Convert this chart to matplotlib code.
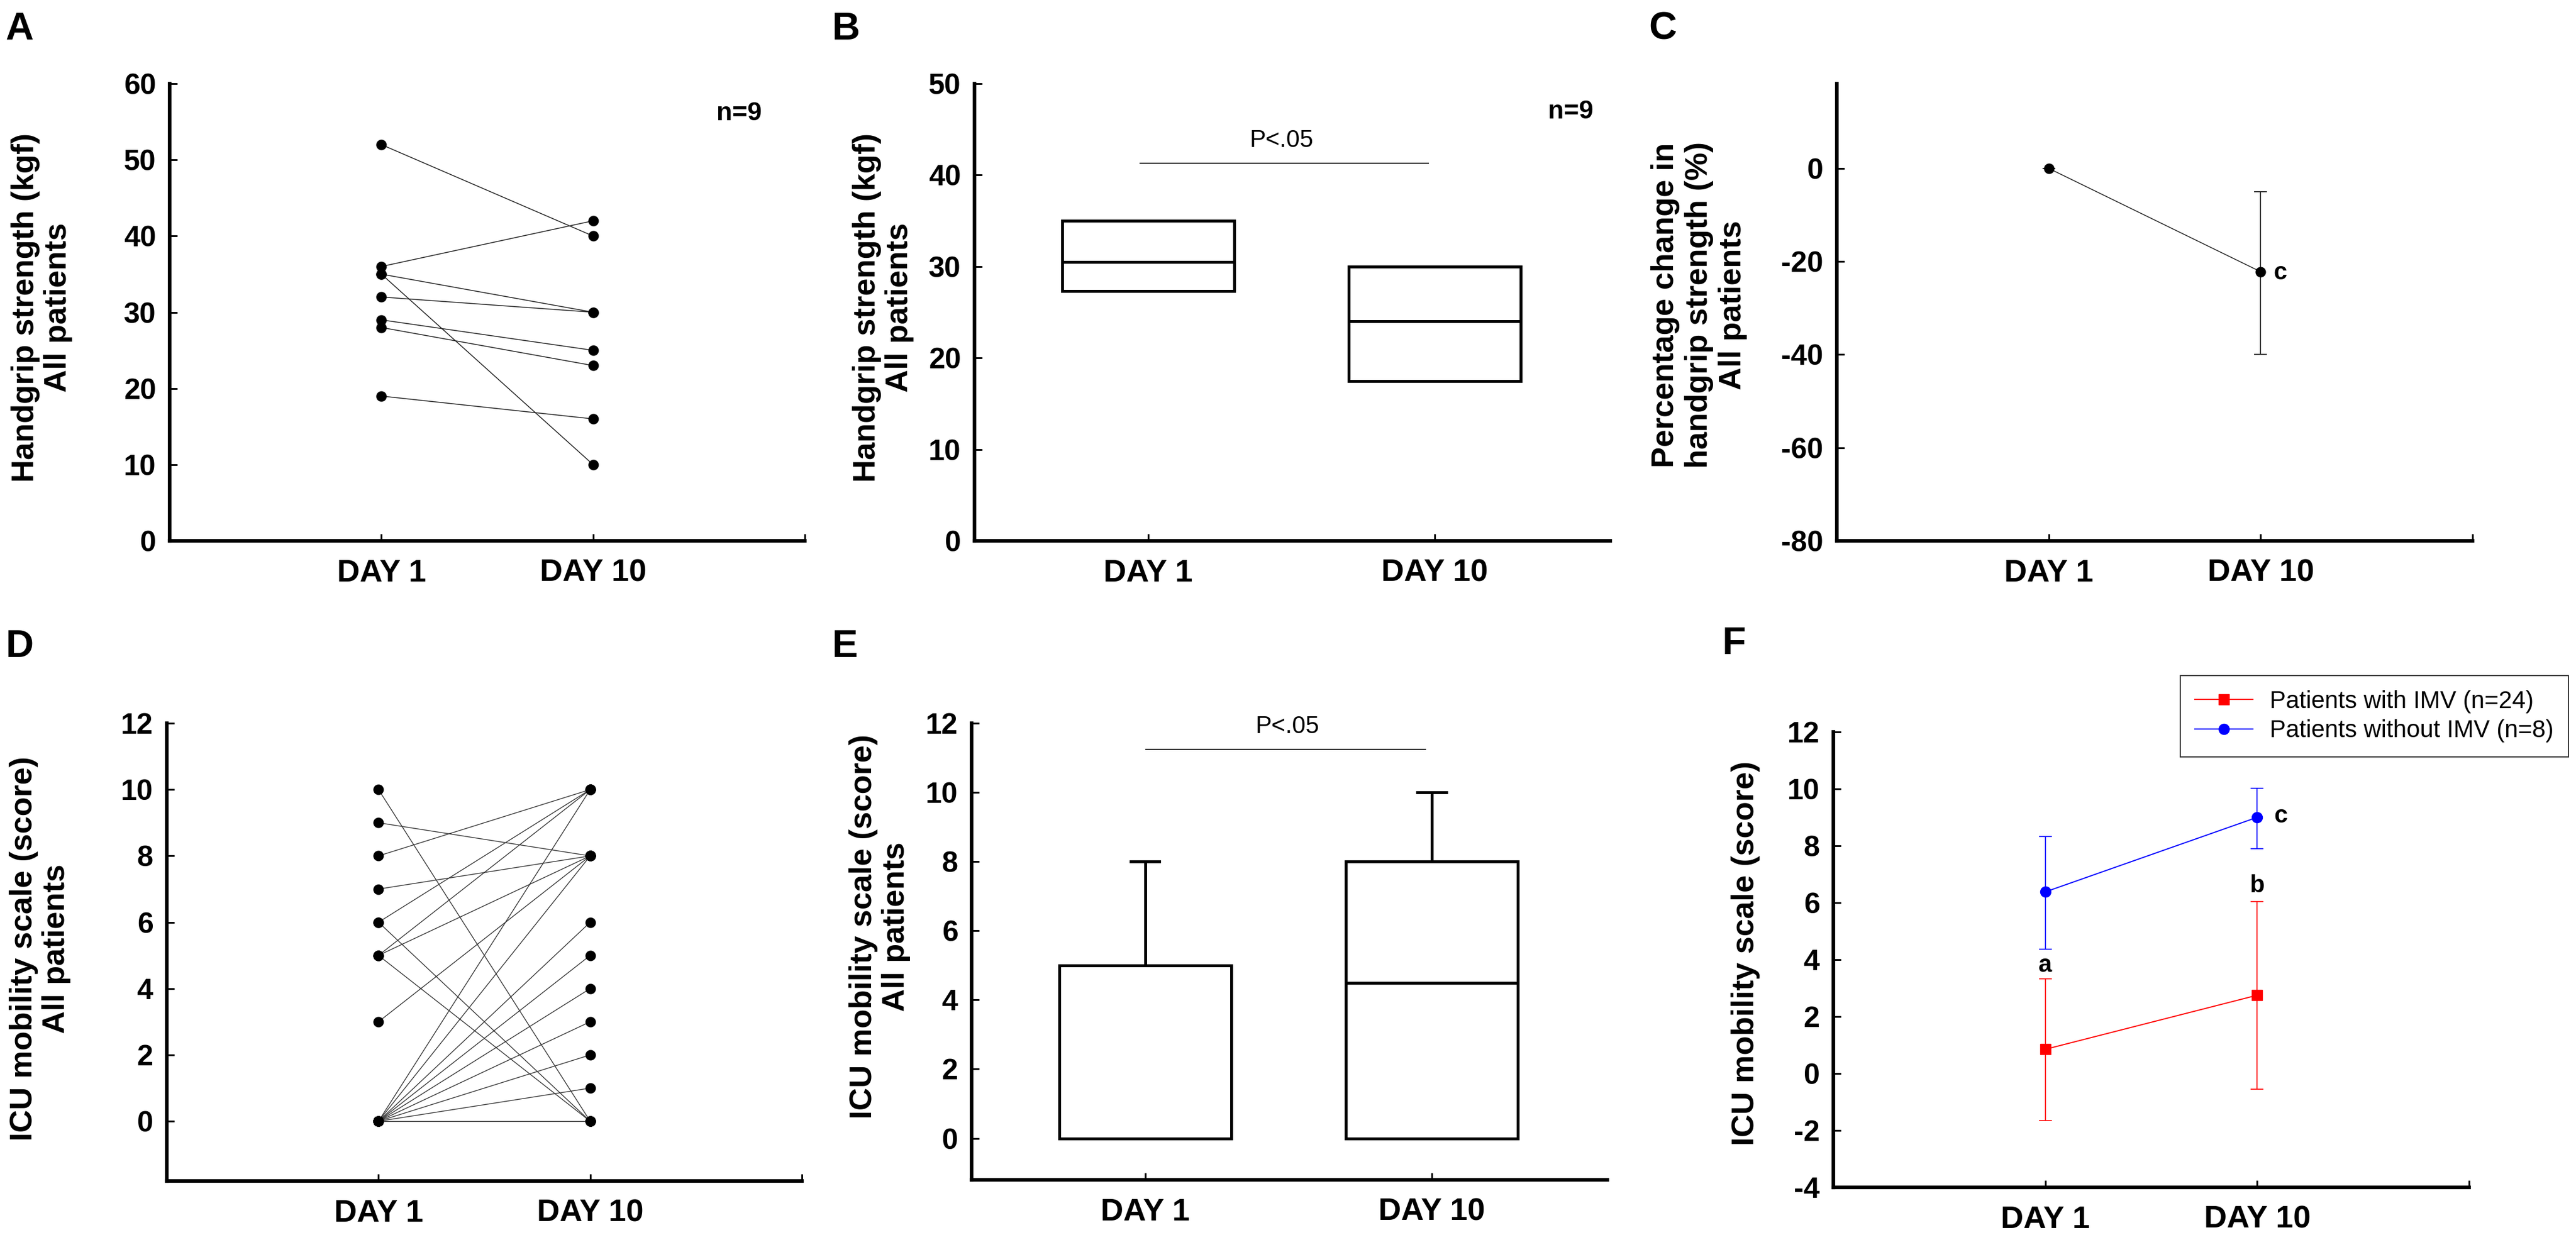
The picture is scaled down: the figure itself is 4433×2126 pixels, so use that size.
import numpy as np
import matplotlib
matplotlib.use("Agg")
import matplotlib.pyplot as plt

plt.rcParams['font.family'] = ['Liberation Sans', 'DejaVu Sans']

# ---- data ----
days = ['DAY 1', 'DAY 10']

# A: handgrip strength per patient (kgf)
hg_day1 = [52, 36, 35, 35, 32, 29, 28, 19]
hg_day10 = [40, 42, 30, 10, 30, 25, 23, 16]

# B: handgrip box (q1, median, q3)
hg_q1 = [27.3, 17.5]
hg_med = [30.5, 24.0]
hg_q3 = [35.0, 30.0]

# C: percentage change in handgrip strength
pct_mean = [0.0, -22.2]
pct_lo = [0.0, -40.0]
pct_hi = [0.0, -5.0]

# D: ICU mobility scale per patient
ims_day1 = [10, 9, 8, 7, 6, 6, 5, 5, 5, 3, 0, 0, 0, 0, 0, 0, 0, 0, 0]
ims_day10 = [0, 8, 10, 8, 10, 0, 10, 8, 0, 8, 10, 8, 6, 5, 4, 3, 2, 1, 0]

# E: ICU mobility box (q1, median, q3, upper whisker)
ims_q1 = [0, 0]
ims_med = [0, 4.5]
ims_q3 = [5, 8]
ims_whi = [8, 10]

# F: groups mean with error
imv_mean = [0.85, 2.75]
imv_lo = [-1.65, -0.55]
imv_hi = [3.32, 6.05]
noimv_mean = [6.38, 9.0]
noimv_lo = [4.37, 7.9]
noimv_hi = [8.33, 10.03]

W, H = 4433, 2126
fig = plt.figure(figsize=(W / 100, H / 100), dpi=100)

def axes_px(left, right, top, bottom):
    return fig.add_axes([left / W, 1 - bottom / H, (right - left) / W, (bottom - top) / H])

TICK = 36
DAYF = 39
LAB = 39

def style(ax, xlim, ylim, yticks, end_tick=True):
    for s in ['top', 'right']:
        ax.spines[s].set_visible(False)
    for s in ['left', 'bottom']:
        ax.spines[s].set_linewidth(4.5)
    ax.set_xlim(*xlim)
    ax.set_ylim(*ylim)
    ax.set_yticks(yticks)
    ax.set_yticklabels([str(v) for v in yticks], fontsize=TICK, fontweight='bold')
    if end_tick:
        ax.set_xticks([1, 2, 3])
        ax.set_xticklabels(days + [''], fontsize=DAYF, fontweight='bold')
    else:
        ax.set_xticks([1, 2])
        ax.set_xticklabels(days, fontsize=DAYF, fontweight='bold')
    ax.tick_params(axis='y', direction='in', length=9, width=2.2, pad=17)
    ax.tick_params(axis='x', direction='in', length=9, width=2.2, pad=22)

def ylab(x, y, txt, spacing=1.15):
    fig.text(x / W, 1 - y / H, txt, rotation=90, ha='center', va='center',
             multialignment='center', fontsize=LAB, fontweight='bold', linespacing=spacing)

def letter(x, y, txt):
    fig.text(x / W, 1 - y / H, txt, ha='left', va='top', fontsize=48, fontweight='bold')

# ---- A ----
axA = axes_px(292, 1385, 144, 931)
for a, b in zip(hg_day1, hg_day10):
    axA.plot([1, 2], [a, b], color='#222222', lw=1.1, marker='o', ms=12,
             mfc='black', mec='black', clip_on=False)
style(axA, (0, 3), (0, 60), list(range(0, 61, 10)))
axA.text(2.69, 56.1, 'n=9', fontsize=32, fontweight='bold', ha='center', va='center')
ylab(72, 529, 'Handgrip strength (kgf)\nAll patients')
letter(9, 20, 'A')

# ---- B ----
axB = axes_px(1677, 2771, 144, 931)
statsB = [dict(med=m, q1=q1, q3=q3, whislo=q1, whishi=q3, fliers=[])
          for m, q1, q3 in zip(hg_med, hg_q1, hg_q3)]
axB.bxp(statsB, positions=[1, 2], widths=0.6, showcaps=False, patch_artist=True,
        boxprops=dict(facecolor='white', edgecolor='black', linewidth=3.6),
        medianprops=dict(color='black', linewidth=3.6),
        whiskerprops=dict(color='black', linewidth=3.6))
style(axB, (0.395, 2.612), (0, 50), list(range(0, 51, 10)), end_tick=False)
axB.hlines(41.3, 0.97, 1.98, color='black', lw=1.3)
axB.text(1.467, 43.8, 'P<.05', fontsize=30, ha='center', va='center')
axB.text(2.474, 46.9, 'n=9', fontsize=32, fontweight='bold', ha='center', va='center')
ylab(1520, 529, 'Handgrip strength (kgf)\nAll patients')
letter(1432, 20, 'B')

# ---- C ----
axC = axes_px(3161, 4255, 144, 931)
pm = np.array(pct_mean)
yerr = np.array([pm - np.array(pct_lo), np.array(pct_hi) - pm])
axC.errorbar([1, 2], pm, yerr=yerr, color='#222222', lw=1.1, marker='o', ms=12,
             mfc='black', mec='black', ecolor='#222222', elinewidth=1.3, capsize=8, capthick=1.3)
style(axC, (0, 3), (-80, 18.2), list(range(-80, 1, 20)))
axC.text(2.06, pct_mean[1] - 0.3, 'c', fontsize=30, fontweight='bold', ha='left', va='center')
ylab(2924, 525, 'Percentage change in\nhandgrip strength (%)\nAll patients', spacing=1.2)
letter(2837, 20, 'C')

# ---- D ----
axD = axes_px(287, 1380, 1245, 2033)
for a, b in zip(ims_day1, ims_day10):
    axD.plot([1, 2], [a, b], color='#333333', lw=1.0, marker='o', ms=12,
             mfc='black', mec='black', clip_on=False)
style(axD, (0, 3), (-1.8, 12), list(range(0, 13, 2)))
ylab(69, 1633, 'ICU mobility scale (score)\nAll patients')
letter(9, 1083, 'D')

# ---- E ----
axE = axes_px(1672, 2766, 1245, 2031)
statsE = [dict(med=m, q1=q1, q3=q3, whislo=q1, whishi=w, fliers=[])
          for m, q1, q3, w in zip(ims_med, ims_q1, ims_q3, ims_whi)]
axE.bxp(statsE, positions=[1, 2], widths=0.6, showcaps=True, capwidths=0.1, patch_artist=True,
        boxprops=dict(facecolor='white', edgecolor='black', linewidth=3.6),
        medianprops=dict(color='black', linewidth=3.6),
        whiskerprops=dict(color='black', linewidth=3.6),
        capprops=dict(color='black', linewidth=3.6), zorder=2)
style(axE, (0.395, 2.612), (-1.2, 12), list(range(0, 13, 2)), end_tick=False)
axE.hlines(11.24, 1.0, 1.98, color='black', lw=1.3)
axE.text(1.497, 11.9, 'P<.05', fontsize=30, ha='center', va='center')
ylab(1514, 1595, 'ICU mobility scale (score)\nAll patients')
letter(1432, 1083, 'E')

# ---- F ----
axF = axes_px(3155, 4249, 1260, 2044)
for mean, lo, hi, col, mk, lbl in [
        (imv_mean, imv_lo, imv_hi, 'red', 's', 'Patients with IMV (n=24)'),
        (noimv_mean, noimv_lo, noimv_hi, 'blue', 'o', 'Patients without IMV (n=8)')]:
    m = np.array(mean)
    err = np.array([m - np.array(lo), np.array(hi) - m])
    axF.errorbar([1, 2], m, yerr=err, color=col, lw=1.4, marker=mk, ms=13,
                 ecolor=col, elinewidth=1.2, capsize=8, capthick=1.2, label=lbl)
style(axF, (0, 3), (-4, 12), list(range(-4, 13, 2)))
axF.text(1.0, 3.8, 'a', fontsize=30, fontweight='bold', ha='center', va='center')
axF.text(2.0, 6.6, 'b', fontsize=30, fontweight='bold', ha='center', va='center')
axF.text(2.08, 9.05, 'c', fontsize=30, fontweight='bold', ha='left', va='center')
handles, labels = axF.get_legend_handles_labels()
handles = [h[0] for h in handles]
fig.legend(handles, labels, loc='upper right', bbox_to_anchor=(4420 / W, 1 - 1163 / H),
           fontsize=30, frameon=True, fancybox=False, edgecolor='#333333', framealpha=1,
           handlelength=2.4, handletextpad=0.7, borderpad=0.6, labelspacing=0.25,
           borderaxespad=0)
fig.legends[0].get_frame().set_linewidth(1.5)
ylab(3004, 1641, 'ICU mobility scale (score)')
letter(2963, 1078, 'F')

fig.savefig('out.png', dpi=100)
